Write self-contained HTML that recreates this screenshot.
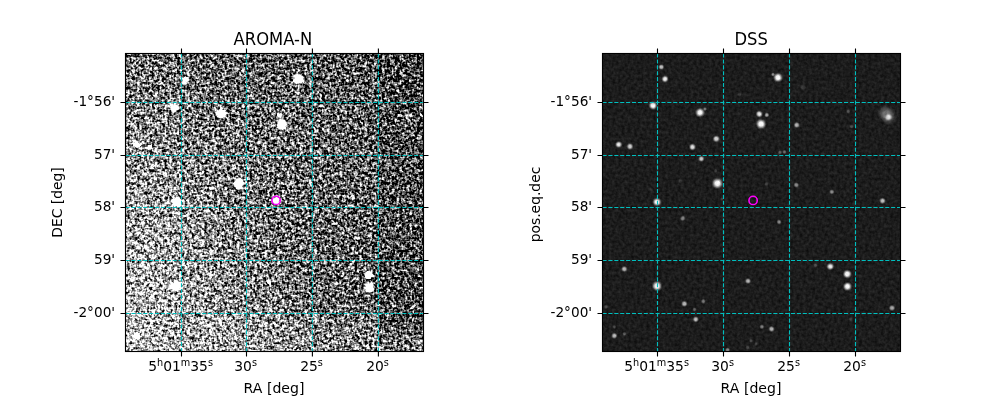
<!DOCTYPE html>
<html lang="en"><head><meta charset="utf-8"><title>AROMA-N / DSS</title>
<style>html,body{margin:0;padding:0;background:#fff}body{width:1000px;height:400px;overflow:hidden}svg{display:block}text{font-family:'DejaVu Sans','Liberation Sans',sans-serif;fill:#000}</style></head><body>
<svg width="1000" height="400" viewBox="0 0 1000 400">
<defs><radialGradient id="sg"><stop offset="0" stop-color="#fff" stop-opacity="1"/><stop offset=".35" stop-color="#fff" stop-opacity=".92"/><stop offset=".6" stop-color="#fff" stop-opacity=".5"/><stop offset=".8" stop-color="#fff" stop-opacity=".15"/><stop offset="1" stop-color="#fff" stop-opacity="0"/></radialGradient><radialGradient id="sh"><stop offset="0" stop-color="#fff" stop-opacity="1"/><stop offset=".45" stop-color="#fff" stop-opacity="1"/><stop offset=".75" stop-color="#fff" stop-opacity=".4"/><stop offset="1" stop-color="#fff" stop-opacity="0"/></radialGradient>
<filter id="nA" x="125.5" y="53.5" width="298" height="298" filterUnits="userSpaceOnUse" color-interpolation-filters="sRGB">
<feTurbulence type="fractalNoise" baseFrequency="0.22" numOctaves="1" seed="7" result="u1"/>
<feColorMatrix in="u1" type="matrix" values="1 0 0 0 0  1 0 0 0 0  1 0 0 0 0  0 0 0 0 1" result="t1"/>
<feTurbulence type="fractalNoise" baseFrequency="0.4" numOctaves="1" seed="23" result="u2"/>
<feColorMatrix in="u2" type="matrix" values="1 0 0 0 0  1 0 0 0 0  1 0 0 0 0  0 0 0 0 1" result="t2"/>
<feTurbulence type="fractalNoise" baseFrequency="0.63" numOctaves="1" seed="41" result="u3"/>
<feColorMatrix in="u3" type="matrix" values="1 0 0 0 0  1 0 0 0 0  1 0 0 0 0  0 0 0 0 1" result="t3"/>
<feComposite in="t1" in2="t2" operator="arithmetic" k1="0" k2="0.7" k3="1" k4="-0.35" result="n12"/>
<feComposite in="n12" in2="t3" operator="arithmetic" k1="0" k2="1" k3="0.8" k4="-0.4" result="n"/>
<feComposite in="SourceGraphic" in2="n" operator="arithmetic" k1="0" k2="2" k3="2.1" k4="-1.05"/>
</filter>
<filter id="nB" x="602.5" y="53.5" width="298" height="298" filterUnits="userSpaceOnUse" color-interpolation-filters="sRGB">
<feTurbulence type="fractalNoise" baseFrequency="0.32" numOctaves="2" seed="3" result="t"/>
<feColorMatrix in="t" type="matrix" values="1 0 0 0 0  1 0 0 0 0  1 0 0 0 0  0 0 0 0 1" result="n"/>
<feComposite in="SourceGraphic" in2="n" operator="arithmetic" k1="0" k2="1" k3="0.17" k4="-0.085"/>
</filter>
<linearGradient id="lg1" x1="0" y1="0" x2="1" y2="0">
<stop offset="0" stop-color="#4e4e4e"/><stop offset="0.15" stop-color="#494949"/><stop offset="0.35" stop-color="#3b3b3b"/><stop offset="0.6" stop-color="#333333"/><stop offset="0.84" stop-color="#2d2d2d"/><stop offset="0.86" stop-color="#262626"/><stop offset="1" stop-color="#222222"/>
</linearGradient>
<linearGradient id="lgB" x1="0" y1="0" x2="0" y2="1"><stop offset="0" stop-color="#808080" stop-opacity="0"/><stop offset=".5" stop-color="#808080" stop-opacity=".2"/><stop offset="1" stop-color="#808080" stop-opacity=".24"/></linearGradient>
<radialGradient id="rgT" gradientUnits="userSpaceOnUse" cx="125" cy="53" r="170"><stop offset="0" stop-color="#000" stop-opacity=".2"/><stop offset="1" stop-color="#000" stop-opacity="0"/></radialGradient>
<radialGradient id="rgW" gradientUnits="userSpaceOnUse" cx="125" cy="352" r="210"><stop offset="0" stop-color="#808080" stop-opacity=".36"/><stop offset="1" stop-color="#808080" stop-opacity="0"/></radialGradient>
<linearGradient id="rgK" x1="0" y1="0" x2="0" y2="1"><stop offset="0" stop-color="#000" stop-opacity=".12"/><stop offset=".3" stop-color="#000" stop-opacity="0"/><stop offset="1" stop-color="#000" stop-opacity="0"/></linearGradient>
</defs>
<rect width="1000" height="400" fill="#fff"/>
<g filter="url(#nA)"><rect x="125.5" y="53.5" width="298.0" height="298.0" fill="url(#lg1)"/>
<rect x="125.5" y="53.5" width="298.0" height="298.0" fill="url(#rgW)"/><rect x="125.5" y="53.5" width="298.0" height="298.0" fill="url(#rgK)"/><rect x="125.5" y="53.5" width="170" height="170" fill="url(#rgT)"/>
<rect x="200" y="300" width="180" height="51.5" fill="url(#lgB)"/><rect x="380" y="322" width="43.5" height="29.5" fill="url(#lgB)"/>
<g clip-path="url(#c0)">
<circle cx="185.5" cy="80.0" r="3.8" fill="url(#sh)" opacity="0.80"/>
<circle cx="184.0" cy="69.0" r="2.8" fill="url(#sh)" opacity="0.25"/>
<circle cx="298.5" cy="79.5" r="6.2" fill="url(#sh)" opacity="1.00"/>
<circle cx="293.5" cy="76.0" r="2.5" fill="url(#sh)" opacity="0.20"/>
<circle cx="173.8" cy="107.8" r="5.0" fill="url(#sh)" opacity="0.90"/>
<circle cx="221.3" cy="113.8" r="5.8" fill="url(#sh)" opacity="1.00"/>
<circle cx="282.0" cy="124.5" r="5.8" fill="url(#sh)" opacity="1.00"/>
<circle cx="279.5" cy="115.5" r="3.2" fill="url(#sh)" opacity="0.70"/>
<circle cx="287.5" cy="116.0" r="2.5" fill="url(#sh)" opacity="0.15"/>
<circle cx="137.0" cy="144.5" r="4.2" fill="url(#sh)" opacity="0.85"/>
<circle cx="150.0" cy="147.5" r="3.2" fill="url(#sh)" opacity="0.55"/>
<circle cx="239.0" cy="183.8" r="6.2" fill="url(#sh)" opacity="1.00"/>
<circle cx="176.3" cy="202.0" r="5.8" fill="url(#sh)" opacity="1.00"/>
<circle cx="276.0" cy="200.5" r="4.0" fill="url(#sh)" opacity="1.00"/>
<circle cx="176.3" cy="286.3" r="6.2" fill="url(#sh)" opacity="1.00"/>
<circle cx="269.3" cy="282.0" r="3.2" fill="url(#sh)" opacity="0.60"/>
<circle cx="136.3" cy="336.3" r="4.5" fill="url(#sh)" opacity="0.80"/>
<circle cx="368.8" cy="275.0" r="4.9" fill="url(#sh)" opacity="1.00"/>
<circle cx="369.2" cy="287.5" r="5.8" fill="url(#sh)" opacity="1.00"/>
<circle cx="350.8" cy="266.5" r="3.8" fill="url(#sh)" opacity="0.30"/>
<circle cx="236.8" cy="138.8" r="3.5" fill="url(#sh)" opacity="0.25"/>
<circle cx="213.0" cy="147.0" r="3.5" fill="url(#sh)" opacity="0.25"/>
<circle cx="317.3" cy="125.0" r="3.0" fill="url(#sh)" opacity="0.15"/>
<circle cx="221.8" cy="158.8" r="3.1" fill="url(#sh)" opacity="0.20"/>
<circle cx="403.0" cy="200.8" r="3.2" fill="url(#sh)" opacity="0.20"/>
<circle cx="144.8" cy="269.0" r="3.1" fill="url(#sh)" opacity="0.15"/>
<circle cx="204.8" cy="303.8" r="3.1" fill="url(#sh)" opacity="0.15"/>
<circle cx="216.3" cy="319.3" r="3.1" fill="url(#sh)" opacity="0.15"/>
<circle cx="292.0" cy="329.0" r="3.1" fill="url(#sh)" opacity="0.12"/>
<circle cx="134.8" cy="335.8" r="3.1" fill="url(#sh)" opacity="0.20"/>
<circle cx="412.5" cy="308.0" r="3.1" fill="url(#sh)" opacity="0.12"/>
<circle cx="409.0" cy="117.0" r="5.6" fill="url(#sh)" opacity="0.22"/>
<circle cx="167.5" cy="225.0" r="3.8" fill="url(#sh)" opacity="0.20"/>
<circle cx="316.8" cy="185.0" r="2.8" fill="url(#sh)" opacity="0.10"/>
</g></g>
<clipPath id="c0"><rect x="125.5" y="53.5" width="298.0" height="298.0"/></clipPath>
<g filter="url(#nB)"><rect x="602.5" y="53.5" width="298.0" height="298.0" fill="#1c1c1c"/>
<g clip-path="url(#c1)">
<circle cx="661.3" cy="67.0" r="3.2" fill="url(#sg)" opacity="0.75"/>
<circle cx="665.0" cy="79.0" r="3.9" fill="url(#sg)" opacity="0.95"/>
<circle cx="700.0" cy="112.5" r="5.3" fill="url(#sg)" opacity="1.00"/>
<circle cx="705.0" cy="109.0" r="2.2" fill="url(#sg)" opacity="0.40"/>
<circle cx="716.3" cy="138.8" r="3.9" fill="url(#sg)" opacity="0.85"/>
<circle cx="692.5" cy="147.0" r="3.9" fill="url(#sg)" opacity="0.85"/>
<circle cx="778.0" cy="77.5" r="5.3" fill="url(#sg)" opacity="1.00"/>
<circle cx="773.0" cy="74.5" r="2.2" fill="url(#sg)" opacity="0.50"/>
<circle cx="759.3" cy="114.0" r="3.9" fill="url(#sg)" opacity="0.90"/>
<circle cx="766.8" cy="115.0" r="2.8" fill="url(#sg)" opacity="0.60"/>
<circle cx="761.0" cy="124.0" r="5.9" fill="url(#sg)" opacity="1.00"/>
<circle cx="796.8" cy="125.0" r="3.4" fill="url(#sg)" opacity="0.70"/>
<circle cx="653.0" cy="105.5" r="4.8" fill="url(#sg)" opacity="1.00"/>
<circle cx="618.8" cy="144.5" r="3.9" fill="url(#sg)" opacity="0.90"/>
<circle cx="630.0" cy="146.5" r="3.8" fill="url(#sg)" opacity="0.80"/>
<circle cx="803.0" cy="87.0" r="3.5" fill="url(#sg)" opacity="0.15"/>
<circle cx="739.5" cy="94.5" r="2.5" fill="url(#sg)" opacity="0.15"/>
<circle cx="848.3" cy="111.3" r="2.5" fill="url(#sg)" opacity="0.24"/>
<circle cx="851.6" cy="126.5" r="2.5" fill="url(#sg)" opacity="0.22"/>
<circle cx="701.3" cy="158.8" r="3.5" fill="url(#sg)" opacity="0.75"/>
<circle cx="717.5" cy="183.3" r="6.2" fill="url(#sg)" opacity="1.00"/>
<circle cx="657.0" cy="202.0" r="4.8" fill="url(#sg)" opacity="1.00"/>
<circle cx="682.8" cy="218.3" r="3.2" fill="url(#sg)" opacity="0.45"/>
<circle cx="796.3" cy="185.0" r="3.1" fill="url(#sg)" opacity="0.50"/>
<circle cx="831.8" cy="191.8" r="2.9" fill="url(#sg)" opacity="0.50"/>
<circle cx="779.0" cy="222.0" r="2.8" fill="url(#sg)" opacity="0.45"/>
<circle cx="780.0" cy="152.5" r="2.5" fill="url(#sg)" opacity="0.30"/>
<circle cx="784.5" cy="152.0" r="2.5" fill="url(#sg)" opacity="0.35"/>
<circle cx="766.5" cy="184.0" r="2.5" fill="url(#sg)" opacity="0.18"/>
<circle cx="680.5" cy="181.0" r="2.8" fill="url(#sg)" opacity="0.12"/>
<circle cx="715.5" cy="170.8" r="2.2" fill="url(#sg)" opacity="0.15"/>
<circle cx="651.0" cy="189.5" r="2.5" fill="url(#sg)" opacity="0.10"/>
<circle cx="721.8" cy="199.0" r="2.2" fill="url(#sg)" opacity="0.15"/>
<circle cx="882.5" cy="200.8" r="3.6" fill="url(#sg)" opacity="0.70"/>
<circle cx="624.3" cy="269.0" r="3.5" fill="url(#sg)" opacity="0.70"/>
<circle cx="657.0" cy="286.0" r="5.6" fill="url(#sg)" opacity="1.00"/>
<circle cx="684.3" cy="303.8" r="3.5" fill="url(#sg)" opacity="0.70"/>
<circle cx="703.3" cy="301.3" r="2.8" fill="url(#sg)" opacity="0.40"/>
<circle cx="694.5" cy="309.5" r="2.4" fill="url(#sg)" opacity="0.30"/>
<circle cx="695.8" cy="319.3" r="3.5" fill="url(#sg)" opacity="0.70"/>
<circle cx="748.0" cy="281.0" r="3.4" fill="url(#sg)" opacity="0.70"/>
<circle cx="771.5" cy="329.0" r="3.5" fill="url(#sg)" opacity="0.65"/>
<circle cx="761.8" cy="326.8" r="2.8" fill="url(#sg)" opacity="0.40"/>
<circle cx="614.3" cy="335.8" r="3.5" fill="url(#sg)" opacity="0.70"/>
<circle cx="624.5" cy="333.8" r="2.4" fill="url(#sg)" opacity="0.30"/>
<circle cx="614.3" cy="326.8" r="2.4" fill="url(#sg)" opacity="0.20"/>
<circle cx="830.3" cy="266.5" r="4.2" fill="url(#sg)" opacity="0.90"/>
<circle cx="847.3" cy="274.0" r="4.9" fill="url(#sg)" opacity="1.00"/>
<circle cx="847.5" cy="286.5" r="5.0" fill="url(#sg)" opacity="1.00"/>
<circle cx="815.5" cy="265.3" r="2.5" fill="url(#sg)" opacity="0.25"/>
<circle cx="727.5" cy="350.0" r="2.8" fill="url(#sg)" opacity="0.50"/>
<circle cx="747.5" cy="347.5" r="2.5" fill="url(#sg)" opacity="0.20"/>
<circle cx="751.0" cy="340.8" r="2.2" fill="url(#sg)" opacity="0.20"/>
<circle cx="756.0" cy="344.0" r="2.2" fill="url(#sg)" opacity="0.20"/>
<circle cx="606.0" cy="306.8" r="2.5" fill="url(#sg)" opacity="0.20"/>
<circle cx="892.0" cy="308.0" r="3.5" fill="url(#sg)" opacity="0.65"/>
<circle cx="850.8" cy="319.0" r="2.5" fill="url(#sg)" opacity="0.15"/>
<circle cx="888.5" cy="117.2" r="4.2" fill="url(#sg)" opacity="0.80"/>
<ellipse cx="887" cy="114.8" rx="11.5" ry="9" transform="rotate(50 887 114.8)" fill="url(#sg)" opacity=".4"/>
</g></g>
<clipPath id="c1"><rect x="602.5" y="53.5" width="298.0" height="298.0"/></clipPath>
<circle cx="276.1" cy="200.4" r="4.15" fill="none" stroke="#f0f" stroke-width="1.6"/>
<circle cx="753.1" cy="200.4" r="4.15" fill="none" stroke="#f0f" stroke-width="1.6"/>
<path d="M181.50 53.50V351.50M246.50 53.50V351.50M312.40 53.50V351.50M378.40 53.50V351.50M125.50 102.50H423.50M125.50 155.50H423.50M125.50 207.50H423.50M125.50 260.50H423.50M125.50 313.50H423.50" stroke="#00bfbf" stroke-width="1.11" stroke-dasharray="4.11 1.78" fill="none"/>
<path d="M181.50 351.50v5.0M181.50 53.50v-5.0M246.50 351.50v5.0M246.50 53.50v-5.0M312.40 351.50v5.0M312.40 53.50v-5.0M378.40 351.50v5.0M378.40 53.50v-5.0M125.50 102.50h-5.0M423.50 102.50h5.0M125.50 155.50h-5.0M423.50 155.50h5.0M125.50 207.50h-5.0M423.50 207.50h5.0M125.50 260.50h-5.0M423.50 260.50h5.0M125.50 313.50h-5.0M423.50 313.50h5.0" stroke="#000" stroke-width="1.11" fill="none"/>
<rect x="125.50" y="53.50" width="298.0" height="298.0" fill="none" stroke="#000" stroke-width="1.11"/>
<text transform="translate(272.90 44.6) scale(.983 1.035)" font-size="16.67" text-anchor="middle">AROMA-N</text>
<text x="180.60" y="370.6" font-size="13.89" text-anchor="middle"><tspan>5</tspan><tspan font-size="9.72" dy="-5.05">h</tspan><tspan dy="5.05">01</tspan><tspan font-size="9.72" dy="-5.05">m</tspan><tspan dy="5.05">35</tspan><tspan font-size="9.72" dy="-5.05">s</tspan></text>
<text x="245.60" y="370.6" font-size="13.89" text-anchor="middle"><tspan>30</tspan><tspan font-size="9.72" dy="-5.05">s</tspan></text>
<text x="311.50" y="370.6" font-size="13.89" text-anchor="middle"><tspan>25</tspan><tspan font-size="9.72" dy="-5.05">s</tspan></text>
<text x="377.50" y="370.6" font-size="13.89" text-anchor="middle"><tspan>20</tspan><tspan font-size="9.72" dy="-5.05">s</tspan></text>
<text transform="translate(115.10 105.75) scale(.985 1)" font-size="13.89" text-anchor="end">-1°56'</text>
<text transform="translate(115.10 158.75) scale(.985 1)" font-size="13.89" text-anchor="end">57'</text>
<text transform="translate(115.10 210.75) scale(.985 1)" font-size="13.89" text-anchor="end">58'</text>
<text transform="translate(115.10 263.75) scale(.985 1)" font-size="13.89" text-anchor="end">59'</text>
<text transform="translate(115.10 316.75) scale(.985 1)" font-size="13.89" text-anchor="end">-2°00'</text>
<text transform="translate(274.00 393.3) scale(1.015 1)" font-size="13.89" text-anchor="middle">RA [deg]</text>
<text transform="translate(62.0 202.50) rotate(-90)" font-size="13.89" text-anchor="middle">DEC [deg]</text>
<path d="M657.50 53.50V351.50M723.50 53.50V351.50M789.50 53.50V351.50M855.50 53.50V351.50M602.50 102.50H900.50M602.50 155.50H900.50M602.50 207.50H900.50M602.50 260.50H900.50M602.50 313.50H900.50" stroke="#00bfbf" stroke-width="1.11" stroke-dasharray="4.11 1.78" fill="none"/>
<path d="M657.50 351.50v5.0M657.50 53.50v-5.0M723.50 351.50v5.0M723.50 53.50v-5.0M789.50 351.50v5.0M789.50 53.50v-5.0M855.50 351.50v5.0M855.50 53.50v-5.0M602.50 102.50h-5.0M900.50 102.50h5.0M602.50 155.50h-5.0M900.50 155.50h5.0M602.50 207.50h-5.0M900.50 207.50h5.0M602.50 260.50h-5.0M900.50 260.50h5.0M602.50 313.50h-5.0M900.50 313.50h5.0" stroke="#000" stroke-width="1.11" fill="none"/>
<rect x="602.50" y="53.50" width="298.0" height="298.0" fill="none" stroke="#000" stroke-width="1.11"/>
<text transform="translate(751.20 44.6) scale(.983 1.035)" font-size="16.67" text-anchor="middle">DSS</text>
<text x="656.60" y="370.6" font-size="13.89" text-anchor="middle"><tspan>5</tspan><tspan font-size="9.72" dy="-5.05">h</tspan><tspan dy="5.05">01</tspan><tspan font-size="9.72" dy="-5.05">m</tspan><tspan dy="5.05">35</tspan><tspan font-size="9.72" dy="-5.05">s</tspan></text>
<text x="722.60" y="370.6" font-size="13.89" text-anchor="middle"><tspan>30</tspan><tspan font-size="9.72" dy="-5.05">s</tspan></text>
<text x="788.60" y="370.6" font-size="13.89" text-anchor="middle"><tspan>25</tspan><tspan font-size="9.72" dy="-5.05">s</tspan></text>
<text x="854.60" y="370.6" font-size="13.89" text-anchor="middle"><tspan>20</tspan><tspan font-size="9.72" dy="-5.05">s</tspan></text>
<text transform="translate(592.10 105.75) scale(.985 1)" font-size="13.89" text-anchor="end">-1°56'</text>
<text transform="translate(592.10 158.75) scale(.985 1)" font-size="13.89" text-anchor="end">57'</text>
<text transform="translate(592.10 210.75) scale(.985 1)" font-size="13.89" text-anchor="end">58'</text>
<text transform="translate(592.10 263.75) scale(.985 1)" font-size="13.89" text-anchor="end">59'</text>
<text transform="translate(592.10 316.75) scale(.985 1)" font-size="13.89" text-anchor="end">-2°00'</text>
<text transform="translate(751.00 393.3) scale(1.015 1)" font-size="13.89" text-anchor="middle">RA [deg]</text>
<text transform="translate(540.0 204.50) rotate(-90)" font-size="13.89" text-anchor="middle">pos.eq.dec</text>
</svg></body></html>
